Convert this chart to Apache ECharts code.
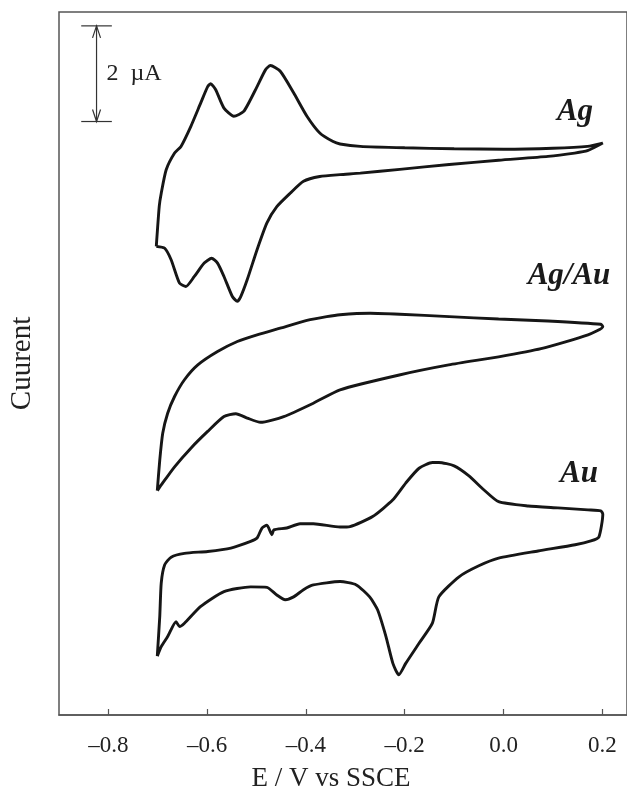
<!DOCTYPE html>
<html>
<head>
<meta charset="utf-8">
<script src="https://cdn.jsdelivr.net/npm/echarts@6/dist/echarts.min.js"></script>
<style>
html,body{margin:0;padding:0;background:#fff;}
#chart{width:627px;height:795px;}
</style>
</head>
<body>
<div id="chart"></div>
<script>
// x tick values (V vs SSCE)
const xTicks = [-0.8, -0.6, -0.4, -0.2, 0.0, 0.2];

// Cyclic voltammograms: [E (V), current (µA, vertically offset)]
const agLoop = [
[-0.703,9.80],[-0.697,10.64],[-0.693,10.91],[-0.683,11.40],[-0.666,11.75],[-0.653,11.89],[-0.633,12.31],[-0.613,12.80],
[-0.599,13.14],[-0.593,13.20],[-0.583,13.08],[-0.566,12.69],[-0.546,12.52],[-0.526,12.62],[-0.499,13.14],[-0.482,13.49],
[-0.472,13.58],[-0.452,13.46],[-0.425,13.01],[-0.398,12.52],[-0.372,12.17],[-0.345,11.99],[-0.331,11.94],[-0.29,11.89],
[-0.2,11.86],[-0.1,11.84],[0.0,11.83],[0.1,11.85],[0.17,11.89],[0.201,11.96],
[0.17,11.80],[0.144,11.75],[0.09,11.68],[-0.01,11.60],[-0.11,11.51],[-0.21,11.41],[-0.29,11.33],[-0.331,11.30],
[-0.372,11.26],[-0.405,11.16],[-0.432,10.91],[-0.459,10.63],[-0.479,10.29],[-0.499,9.73],[-0.519,9.10],[-0.532,8.75],
[-0.539,8.65],[-0.549,8.75],[-0.566,9.17],[-0.579,9.45],[-0.591,9.55],[-0.606,9.45],[-0.626,9.17],[-0.643,8.96],
[-0.656,9.03],[-0.673,9.52],[-0.686,9.76],[-0.703,9.80]
];

const agAuLoop = [
[-0.701,4.69],[-0.696,5.33],[-0.690,5.89],[-0.680,6.31],[-0.666,6.66],[-0.646,7.01],[-0.619,7.32],[-0.579,7.60],
[-0.539,7.81],[-0.499,7.95],[-0.452,8.09],[-0.398,8.25],[-0.358,8.33],[-0.331,8.37],[-0.27,8.40],[-0.21,8.38],
[-0.11,8.33],[-0.01,8.28],[0.09,8.24],[0.197,8.17],[0.201,8.12],
[0.171,7.95],[0.076,7.66],[-0.010,7.49],[-0.111,7.32],[-0.211,7.11],[-0.331,6.80],[-0.385,6.52],[-0.445,6.24],
[-0.492,6.12],[-0.519,6.21],[-0.542,6.30],[-0.566,6.24],[-0.599,5.93],[-0.633,5.58],[-0.666,5.19],[-0.693,4.81],[-0.701,4.69]
];

const auLoop = [
[-0.701,1.23],[-0.696,2.06],[-0.693,2.76],[-0.686,3.14],[-0.673,3.30],[-0.646,3.38],[-0.599,3.42],[-0.552,3.49],
[-0.512,3.63],[-0.499,3.70],[-0.489,3.91],[-0.479,3.97],[-0.469,3.77],[-0.465,3.87],[-0.439,3.91],[-0.412,4.00],
[-0.385,4.00],[-0.331,3.93],[-0.311,3.94],[-0.265,4.15],[-0.224,4.50],[-0.198,4.85],[-0.171,5.16],[-0.144,5.28],
[-0.131,5.28],[-0.100,5.21],[-0.070,5.00],[-0.040,4.71],[-0.010,4.46],[0.050,4.37],[0.110,4.33],[0.171,4.29],
[0.197,4.27],[0.201,4.20],
[0.193,3.72],[0.177,3.64],[0.145,3.56],[0.070,3.43],[-0.010,3.28],[-0.050,3.12],[-0.090,2.89],[-0.131,2.47],
[-0.144,1.92],[-0.171,1.50],[-0.198,1.08],[-0.212,0.84],[-0.224,1.08],[-0.238,1.64],[-0.255,2.20],[-0.271,2.47],
[-0.298,2.72],[-0.331,2.79],[-0.385,2.72],[-0.405,2.62],[-0.425,2.47],[-0.442,2.41],[-0.459,2.51],[-0.479,2.67],
[-0.512,2.68],[-0.566,2.58],[-0.613,2.27],[-0.646,1.92],[-0.656,1.85],[-0.663,1.95],[-0.680,1.64],[-0.693,1.43],[-0.701,1.23]
];

// 2 µA scale bar: [E, I bottom, I top, cap half-width]
const scaleBar = [[-0.824, 12.41, 14.41, 0.031]];
const scaleLabel = '2  µA';

const seriesNames = ['Ag', 'Ag/Au', 'Au'];

const SERIF = 'Liberation Serif';
const chart = echarts.init(document.getElementById('chart'), null, {renderer: 'canvas'});

const curveStyle = {color: '#161616', width: 2.9};

chart.setOption({
  animation: false,
  backgroundColor: '#ffffff',
  grid: {left: 57, right: -3, top: 12, bottom: 80, show: true, borderColor: '#555', borderWidth: 1.5, backgroundColor: 'transparent'},
  xAxis: {
    type: 'value', min: -0.9, max: 0.25,
    axisLine: {show: true, lineStyle: {color: '#555', width: 1.5}},
    axisTick: {show: true, inside: true, length: 6, customValues: xTicks, lineStyle: {color: '#555', width: 1.2}},
    axisLabel: {customValues: xTicks, margin: 19, color: '#222', fontFamily: SERIF, fontSize: 23,
      formatter: v => v.toFixed(1).replace('-', '\u2013')},
    splitLine: {show: false}
  },
  yAxis: {
    type: 'value', min: 0, max: 14.7,
    axisLine: {show: false}, axisTick: {show: false}, axisLabel: {show: false}, splitLine: {show: false},
    name: 'Cuurent', nameLocation: 'middle', nameGap: 22,
    nameTextStyle: {fontFamily: SERIF, fontSize: 29, color: '#222'}
  },
  series: [
    {name: seriesNames[0], type: 'line', data: agLoop, showSymbol: false, smooth: 0.2, lineStyle: curveStyle},
    {name: seriesNames[1], type: 'line', data: agAuLoop, showSymbol: false, smooth: 0.2, lineStyle: curveStyle},
    {name: seriesNames[2], type: 'line', data: auLoop, showSymbol: false, smooth: 0.2, lineStyle: curveStyle},
    {
      type: 'custom', data: scaleBar, silent: true,
      renderItem: function (params, api) {
        const x = api.value(0), y0 = api.value(1), y1 = api.value(2), h = api.value(3);
        const pTop = api.coord([x, y1]), pBot = api.coord([x, y0]);
        const cl = api.coord([x - h, y1]), cr = api.coord([x + h, y1]);
        const stroke = {stroke: '#333', lineWidth: 1.2, fill: null};
        const ah = 12, aw = 4;
        return {type: 'group', children: [
          {type: 'line', shape: {x1: pTop[0], y1: pTop[1], x2: pBot[0], y2: pBot[1]}, style: stroke},
          {type: 'line', shape: {x1: cl[0], y1: pTop[1], x2: cr[0], y2: pTop[1]}, style: stroke},
          {type: 'line', shape: {x1: cl[0], y1: pBot[1], x2: cr[0], y2: pBot[1]}, style: stroke},
          {type: 'polyline', shape: {points: [[pTop[0] - aw, pTop[1] + ah], [pTop[0], pTop[1]], [pTop[0] + aw, pTop[1] + ah]]}, style: stroke},
          {type: 'polyline', shape: {points: [[pBot[0] - aw, pBot[1] - ah], [pBot[0], pBot[1]], [pBot[0] + aw, pBot[1] - ah]]}, style: stroke},
          {type: 'text', style: {text: scaleLabel, x: pTop[0] + 10, y: (pTop[1] + pBot[1]) / 2, fontFamily: SERIF, fontSize: 24, fill: '#222', align: 'left', verticalAlign: 'middle'}}
        ]};
      }
    }
  ],
  graphic: [
    {type: 'text', x: 331, y: 779, style: {text: 'E / V vs SSCE', fontFamily: SERIF, fontSize: 27, fill: '#222', align: 'center', verticalAlign: 'middle'}},
    {type: 'text', x: 575, y: 112, style: {text: seriesNames[0], fontFamily: SERIF, fontSize: 31, fontStyle: 'italic', fontWeight: 'bold', fill: '#1a1a1a', align: 'center', verticalAlign: 'middle'}},
    {type: 'text', x: 569, y: 276, style: {text: seriesNames[1], fontFamily: SERIF, fontSize: 31, fontStyle: 'italic', fontWeight: 'bold', fill: '#1a1a1a', align: 'center', verticalAlign: 'middle'}},
    {type: 'text', x: 579, y: 474, style: {text: seriesNames[2], fontFamily: SERIF, fontSize: 31, fontStyle: 'italic', fontWeight: 'bold', fill: '#1a1a1a', align: 'center', verticalAlign: 'middle'}}
  ]
});
</script>
</body>
</html>
